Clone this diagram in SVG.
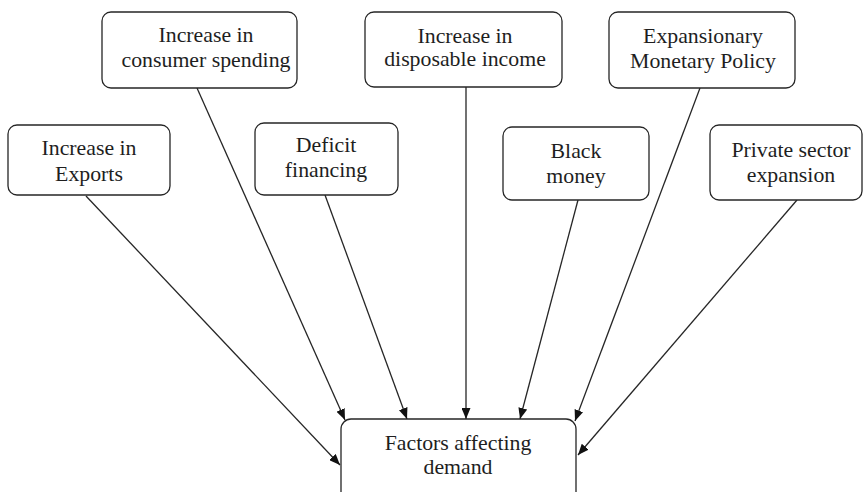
<svg xmlns="http://www.w3.org/2000/svg" width="864" height="492" viewBox="0 0 864 492">
  <style>
    .box { fill: #ffffff; stroke: #262626; stroke-width: 1.3; }
    .lbl { font-family: "Liberation Serif", "Times New Roman", serif; font-size: 21.8px; fill: #1e1e1e; text-anchor: middle; }
    .edge { stroke: #262626; stroke-width: 1.3; fill: none; marker-end: url(#arrow); }
  </style>
  <defs>
    <marker id="arrow" viewBox="0 0 11 9" refX="11" refY="4.5" markerWidth="11" markerHeight="9" markerUnits="userSpaceOnUse" orient="auto">
      <path d="M0,0 L11,4.5 L0,9 Z" fill="#111111"/>
    </marker>
  </defs>
  <rect width="864" height="492" fill="#ffffff"/>

  <g id="connectors">
    <line class="edge" x1="86" y1="196" x2="340" y2="465"/>
    <line class="edge" x1="197" y1="88" x2="345" y2="420"/>
    <line class="edge" x1="325" y1="195" x2="407" y2="419"/>
    <line class="edge" x1="466" y1="87" x2="466" y2="419"/>
    <line class="edge" x1="578" y1="200" x2="520" y2="419"/>
    <line class="edge" x1="700" y1="88" x2="575" y2="421"/>
    <line class="edge" x1="797" y1="200" x2="578" y2="455"/>
  </g>

  <g id="node-exports">
    <rect class="box" x="8" y="125" width="162" height="70" rx="9"/>
    <text class="lbl" x="89" y="155">Increase in</text>
    <text class="lbl" x="89" y="181">Exports</text>
  </g>

  <g id="node-consumer">
    <rect class="box" x="102" y="12" width="195" height="76" rx="9"/>
    <text class="lbl" x="206" y="42">Increase in</text>
    <text class="lbl" x="206" y="67">consumer spending</text>
  </g>

  <g id="node-deficit">
    <rect class="box" x="255" y="123" width="143" height="72" rx="9"/>
    <text class="lbl" x="326" y="152">Deficit</text>
    <text class="lbl" x="326" y="177">financing</text>
  </g>

  <g id="node-disposable">
    <rect class="box" x="365" y="12" width="197" height="75" rx="9"/>
    <text class="lbl" x="465" y="43">Increase in</text>
    <text class="lbl" x="465" y="66">disposable income</text>
  </g>

  <g id="node-black">
    <rect class="box" x="503" y="127" width="146" height="73" rx="9"/>
    <text class="lbl" x="576" y="158">Black</text>
    <text class="lbl" x="576" y="183">money</text>
  </g>

  <g id="node-monetary">
    <rect class="box" x="609" y="12" width="186" height="76" rx="9"/>
    <text class="lbl" x="703" y="43">Expansionary</text>
    <text class="lbl" x="703" y="68">Monetary Policy</text>
  </g>

  <g id="node-private">
    <rect class="box" x="710" y="125" width="152" height="75" rx="9"/>
    <text class="lbl" x="791" y="157">Private sector</text>
    <text class="lbl" x="791" y="182">expansion</text>
  </g>

  <g id="node-factors">
    <rect class="box" x="341" y="419" width="235" height="90" rx="10"/>
    <text class="lbl" x="458" y="450">Factors affecting</text>
    <text class="lbl" x="458" y="474">demand</text>
  </g>
</svg>
